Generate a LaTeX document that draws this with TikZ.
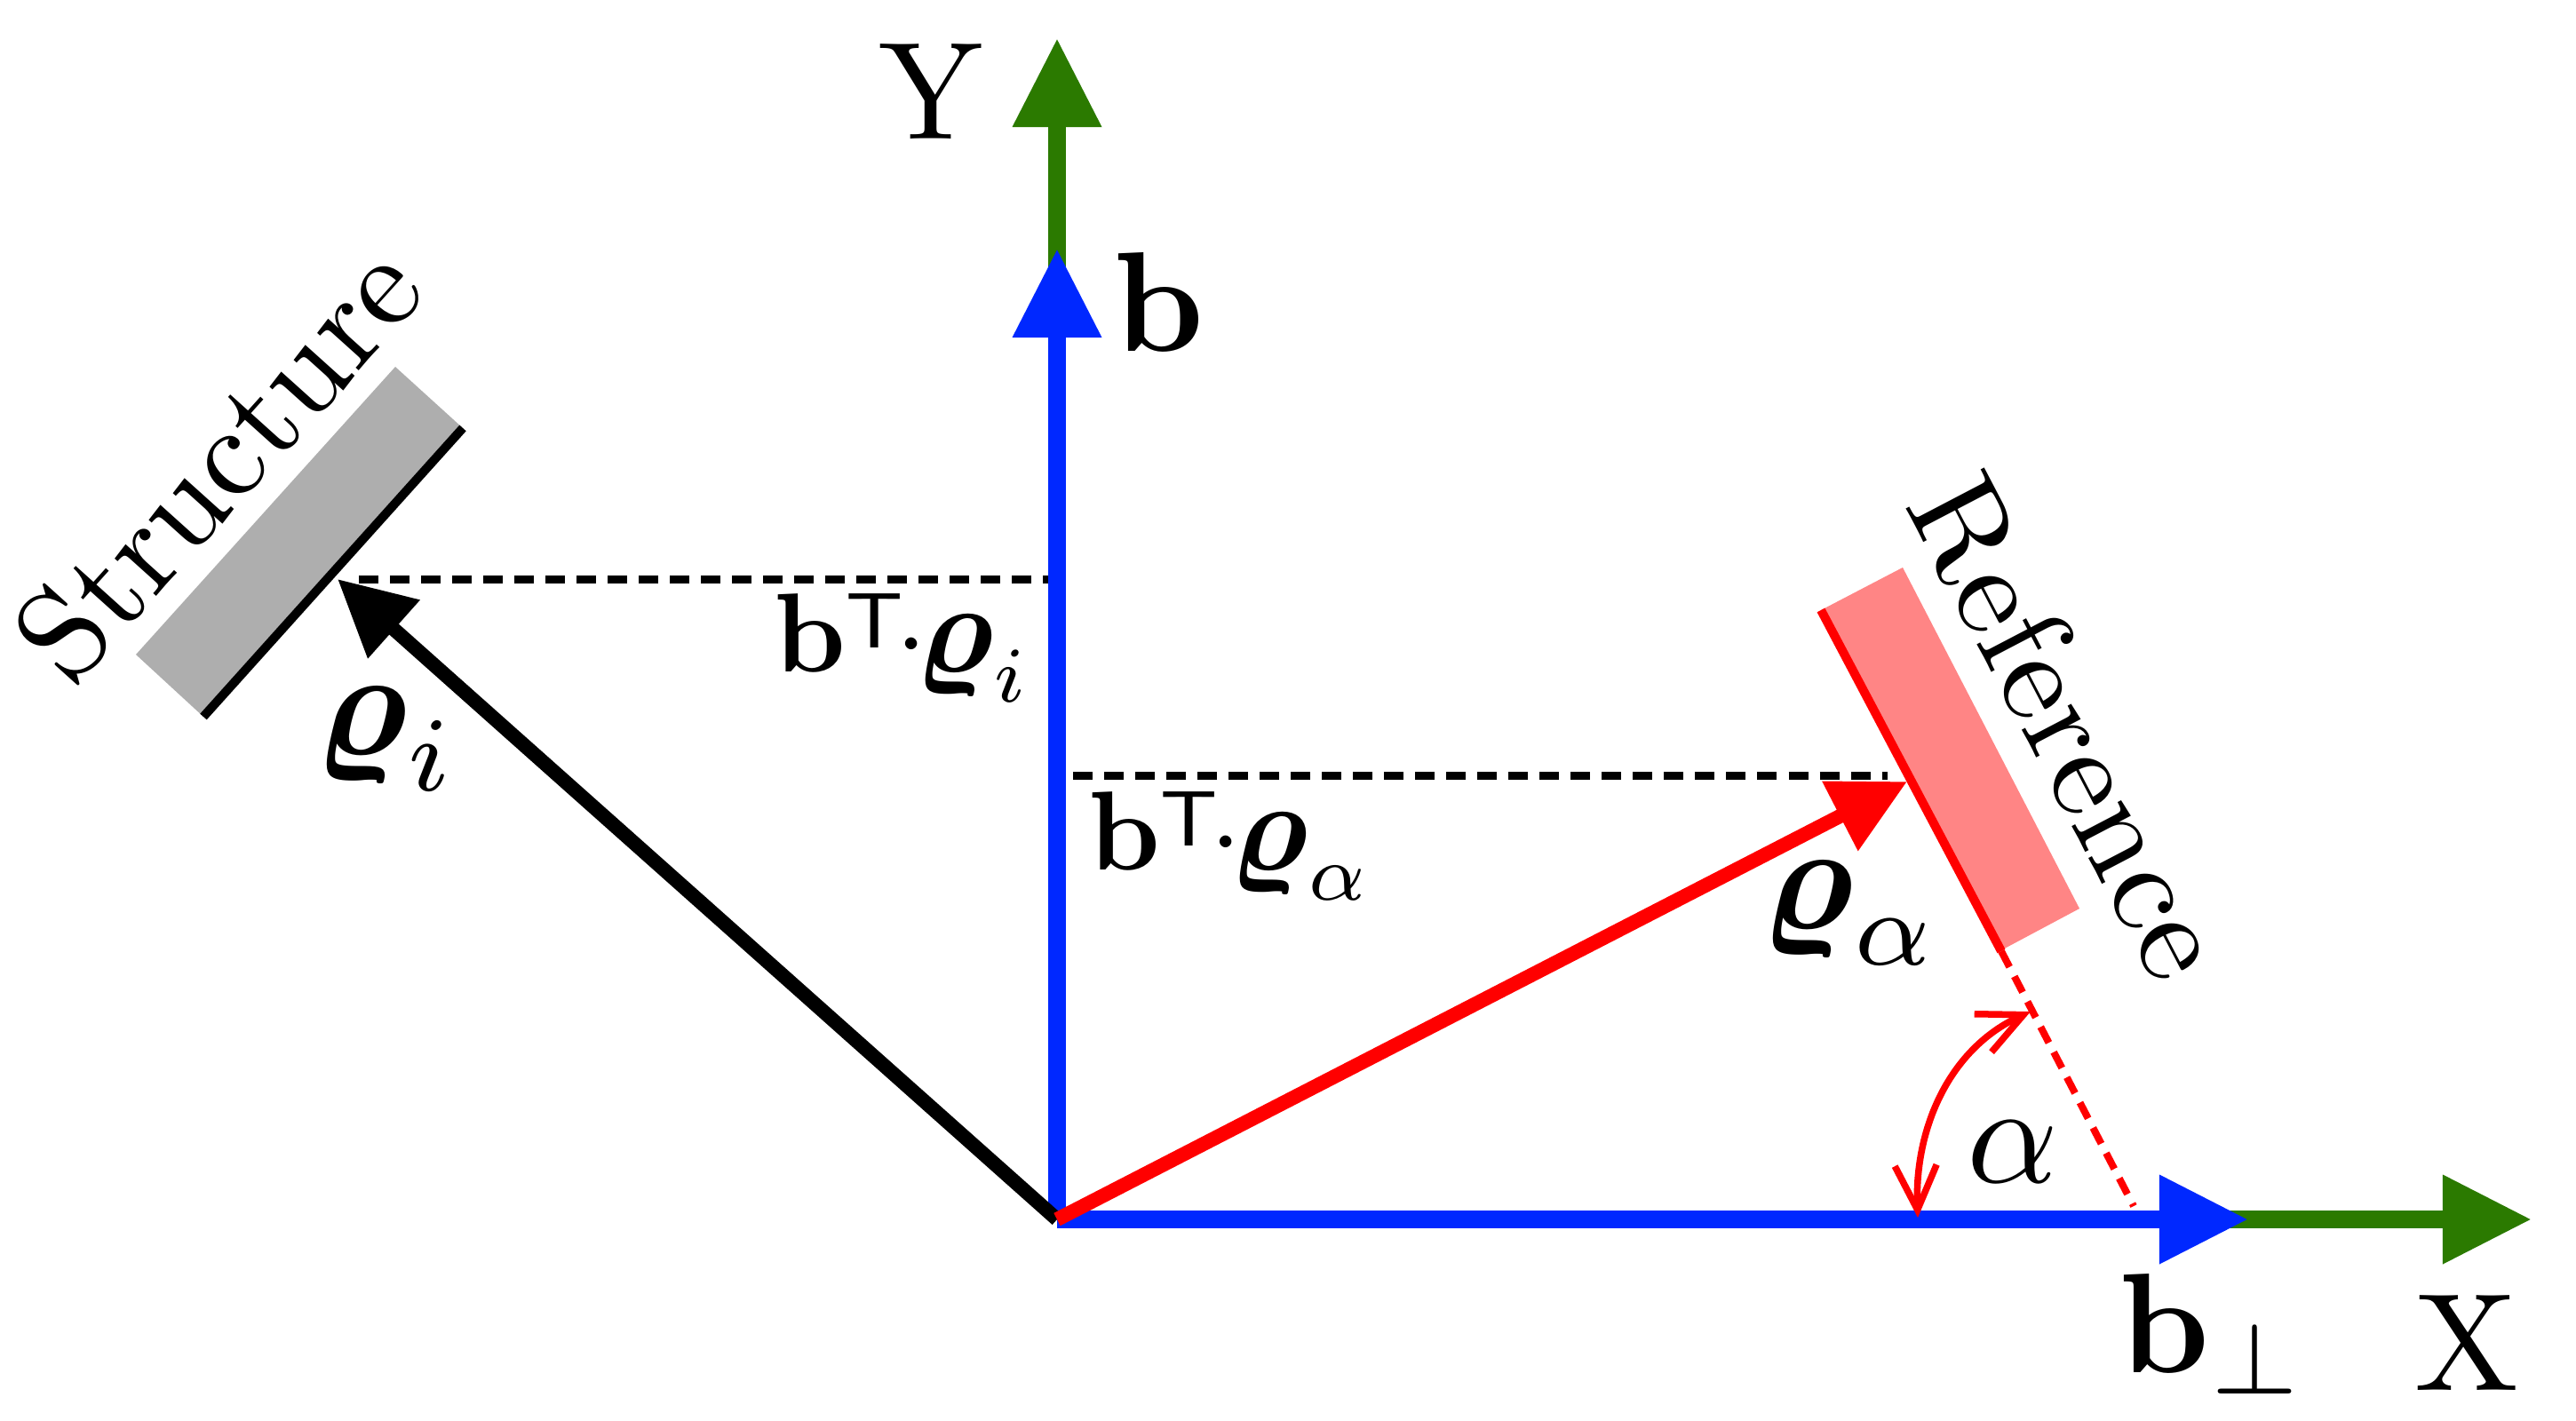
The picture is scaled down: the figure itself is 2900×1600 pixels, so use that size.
\documentclass[tikz,border=0pt]{standalone}
\usepackage{amsmath, amssymb}
\usetikzlibrary{arrows.meta}
\definecolor{axisgreen}{HTML}{2B7A00}
\definecolor{basisblue}{HTML}{0028FF}
\definecolor{structgray}{HTML}{AEAEAE}
\definecolor{refpink}{HTML}{FF8585}
\newcommand{\bigrho}{\scalebox{1.14}{$\boldsymbol{\varrho}$}}
\newcommand{\lowT}{\raisebox{-0.35ex}{$\scriptstyle\mathsf{T}$}}
\begin{document}
\begin{tikzpicture}[x=0.01cm, y=-0.01cm,
    axisline/.style={line width=0.2cm, -{Triangle[length=1cm,width=0.95cm]}},
    vecline/.style={line width=0.16cm, -{Triangle[length=0.85cm,width=0.84cm]}},
    projline/.style={black, line width=0.09cm, dash pattern=on 0.22cm off 0.13cm},
    bigtext/.style={inner sep=0pt, scale=4.45},
    boldtext/.style={inner sep=0pt, scale=4.55},
    rhotext/.style={inner sep=0pt, scale=4.85},
    midtext/.style={inner sep=0pt, scale=3.6},
    sidetext/.style={inner sep=0pt, scale=4.15}]
    \useasboundingbox (0,0) rectangle (2900,1600);
    \coordinate (origin) at (1190,1373);
    \coordinate (ytip) at (1190,43);
    \coordinate (xtip) at (2850,1373);
    \coordinate (btip) at (1190,280);
    \coordinate (bperptip) at (2531,1373);
    \coordinate (rhoitip) at (380,652);
    \coordinate (rhoatip) at (2147,880);
    \coordinate (projistart) at (404,652);
    \coordinate (projiend) at (1180,652);
    \coordinate (projastart) at (1208,873);
    \coordinate (projaend) at (2125,873);
    \coordinate (refbottom) at (2253,1071);
    \coordinate (reffoot) at (2402,1358);
    \coordinate (arcstart) at (2159,1371);
    \coordinate (arcend) at (2286,1139);
    % axes
    \draw[axisline, axisgreen] (origin) -- (ytip);
    \draw[axisline, axisgreen] (origin) -- (xtip);
    \draw[axisline, basisblue] (origin) -- (btip);
    \draw[axisline, basisblue] (origin) -- (bperptip);
    % structure
    \fill[structgray] (445,413) -- (521,482) -- (229,807) -- (153,737) -- cycle;
    \draw[black, line width=0.1cm] (521,482) -- (229,807);
    % reference
    \fill[refpink] (2142,639) -- (2341,1023) -- (2251,1071) -- (2050,687) -- cycle;
    \draw[red, line width=0.1cm] (2050,687) -- (refbottom);
    \draw[red, line width=0.08cm, dash pattern=on 0.2cm off 0.12cm] (refbottom) -- (reffoot);
    % projections
    \draw[projline] (projistart) -- (projiend);
    \draw[projline] (projastart) -- (projaend);
    % vectors
    \draw[vecline, black] (origin) -- (rhoitip);
    \draw[vecline, red] (origin) -- (rhoatip);
    \draw[red, line width=0.075cm, {Straight Barb[length=0.5cm,width=0.47cm]}-{Straight Barb[length=0.5cm,width=0.47cm]}]
        (arcstart) .. controls (2155,1270) and (2195,1180) .. (arcend);
    % labels
    \node[bigtext] (ylabel) at (1048,103) {Y};
    \node[bigtext] (xlabel) at (2777,1512) {X};
    \node[boldtext] (blabel) at (1305,340) {$\mathbf{b}$};
    \node[boldtext] (bperplabel) at (2491,1502) {$\mathbf{b}_\perp$};
    \node[boldtext] (alphalabel) at (2266,1297) {$\alpha$};
    \node[rhotext] (rhoilabel) at (435,832) {$\boldsymbol{\varrho}_i$};
    \node[rhotext] (rhoalabel) at (2083,1028) {$\boldsymbol{\varrho}_\alpha$};
    \node[midtext] (projilabel) at (1016,729) {$\mathbf{b}^{\lowT}\mkern-2mu{\cdot}\mkern-2mu\bigrho_i$};
    \node[midtext] (projalabel) at (1385,952) {$\mathbf{b}^{\lowT}\mkern-2mu{\cdot}\mkern-2mu\bigrho_\alpha$};
    \node[sidetext, rotate=48] (structlabel) at (245,520) {Structure};
    \node[sidetext, rotate=-62.4] (reflabel) at (2330,818) {Reference};
\end{tikzpicture}
\end{document}
